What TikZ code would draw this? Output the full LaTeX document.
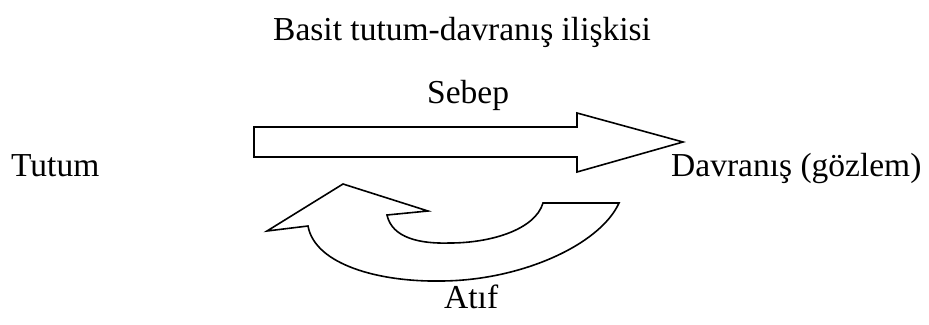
\documentclass[tikz,border=0pt]{standalone}
\usepackage{fontspec}
\setmainfont{Liberation Serif}
\begin{document}
\begin{tikzpicture}[x=1pt,y=-1pt,
  lbl/.style={anchor=base west,inner sep=0pt,font=\fontsize{33.5}{40}\selectfont},
  arrowshape/.style={draw=black,line width=1.6pt,line join=miter,fill=white}]
\useasboundingbox (0,0) rectangle (929,324);
% texts
\node[lbl] (title) at (273,40) {Basit tutum-davranış ilişkisi};
\node[lbl] (sebep) at (427,103) {Sebep};
\node[lbl] (tutum) at (11,176) {Tutum};
\node[lbl] (davranis) at (671,176) {Davranış (gözlem)};
\node[lbl] (atif) at (444,308) {Atıf};
% straight block arrow (Sebep)
\draw[arrowshape] (254,127) -- (577,127) -- (577,113) -- (683,142) -- (577,172) -- (577,157) -- (254,157) -- cycle;
% curved block arrow (Atıf)
\draw[arrowshape] (267,231) -- (343,184) -- (428,211) -- (387,215)
  .. controls (392,238) and (420,244) .. (450,243)
  .. controls (490,243) and (535,230) .. (543,203)
  -- (619,203)
  .. controls (600,245) and (520,281) .. (440,281)
  .. controls (380,282) and (315,265) .. (308,226)
  -- cycle;
\end{tikzpicture}
\end{document}
